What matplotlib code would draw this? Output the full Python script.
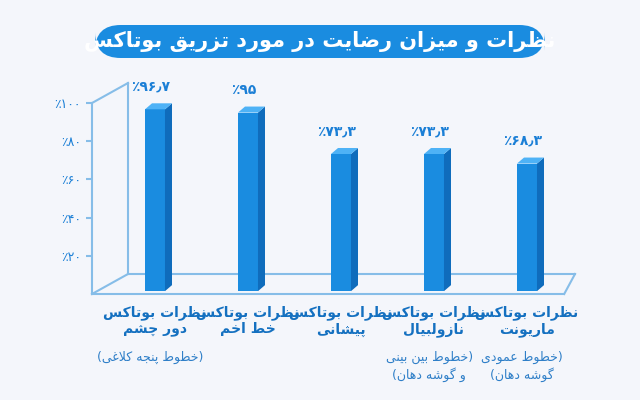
import matplotlib
matplotlib.use("Agg")
import matplotlib.pyplot as plt
from matplotlib.patches import Polygon, FancyBboxPatch

# ---------------- data ----------------
title = "نظرات و میزان رضایت در مورد تزریق بوتاکس"
values = [96.7, 95, 73.3, 73.3, 68.3]
value_labels = ["۹۶٫۷", "۹۵", "۷۳٫۳", "۷۳٫۳", "۶۸٫۳"]
cat_line1 = ["نظرات بوتاکس"] * 5
cat_line2 = ["دور چشم", "خط اخم", "پیشانی", "نازولبیال", "ماریونت"]
notes = [["خطوط پنجه کلاغی"], [], [], ["خطوط بین بینی", "و گوشه دهان"], ["خطوط عمودی", "گوشه دهان"]]
yticks = [20, 40, 60, 80, 100]
ytick_labels = ["۲۰", "۴۰", "۶۰", "۸۰", "۱۰۰"]

# ---------------- simple Arabic/Persian shaper ----------------
F = {
 'ا': (0xFE8D, 0xFE8E), 'د': (0xFEA9, 0xFEAA), 'ر': (0xFEAD, 0xFEAE),
 'ز': (0xFEAF, 0xFEB0), 'و': (0xFEED, 0xFEEE),
 'ب': (0xFE8F, 0xFE90, 0xFE91, 0xFE92), 'ت': (0xFE95, 0xFE96, 0xFE97, 0xFE98),
 'ج': (0xFE9D, 0xFE9E, 0xFE9F, 0xFEA0), 'خ': (0xFEA5, 0xFEA6, 0xFEA7, 0xFEA8),
 'س': (0xFEB1, 0xFEB2, 0xFEB3, 0xFEB4), 'ش': (0xFEB5, 0xFEB6, 0xFEB7, 0xFEB8),
 'ض': (0xFEBD, 0xFEBE, 0xFEBF, 0xFEC0), 'ط': (0xFEC1, 0xFEC2, 0xFEC3, 0xFEC4),
 'ظ': (0xFEC5, 0xFEC6, 0xFEC7, 0xFEC8), 'ع': (0xFEC9, 0xFECA, 0xFECB, 0xFECC),
 'غ': (0xFECD, 0xFECE, 0xFECF, 0xFED0), 'ق': (0xFED5, 0xFED6, 0xFED7, 0xFED8),
 'ل': (0xFEDD, 0xFEDE, 0xFEDF, 0xFEE0), 'م': (0xFEE1, 0xFEE2, 0xFEE3, 0xFEE4),
 'ن': (0xFEE5, 0xFEE6, 0xFEE7, 0xFEE8), 'ه': (0xFEE9, 0xFEEA, 0xFEEB, 0xFEEC),
 'ی': (0xFBFC, 0xFBFD, 0xFBFE, 0xFBFF), 'ک': (0xFB8E, 0xFB8F, 0xFB90, 0xFB91),
 'گ': (0xFB92, 0xFB93, 0xFB94, 0xFB95), 'پ': (0xFB56, 0xFB57, 0xFB58, 0xFB59),
 'چ': (0xFB7A, 0xFB7B, 0xFB7C, 0xFB7D),
}

def shape(s):
    out = []
    i = 0
    n = len(s)
    def dual(c):
        return c in F and len(F[c]) == 4
    while i < n:
        c = s[i]
        if c not in F:
            out.append(c); i += 1; continue
        prev_j = i > 0 and dual(s[i-1])
        if c == 'ل' and i + 1 < n and s[i+1] == 'ا':
            out.append(chr(0xFEFC if prev_j else 0xFEFB)); i += 2; continue
        next_j = dual(c) and i + 1 < n and s[i+1] in F
        f = F[c]
        if prev_j and next_j: g = f[3]
        elif next_j: g = f[2]
        elif prev_j: g = f[1]
        else: g = f[0]
        out.append(chr(g)); i += 1
    return "".join(out[::-1])

FONT = "DejaVu Sans"
BLUE_TXT = "#1b7fd6"
LINE = "#86bde8"

fig = plt.figure(figsize=(6.4, 4.0), dpi=100)
fig.patch.set_facecolor("#f4f6fb")

# title pill
pill = FancyBboxPatch((95/640, 342/400), 450/640, 33/400, boxstyle="round,pad=0,rounding_size=0.04",
                      transform=fig.transFigure, facecolor="#1a8ce0", edgecolor="none", mutation_aspect=1.6)
fig.patches.append(pill)
fig.text(0.5, 358/400, shape(title), ha="center", va="center", color="white",
         fontsize=15, fontweight="bold", family=FONT)

ax = fig.add_axes([92/640, (400-294)/400, (575-92)/640, (294-103)/400])
ax.set_facecolor("none")
xl0, xl1 = -(155-92)/93, (575-155)/93
ax.set_xlim(xl0, xl1)
ax.set_ylim(0, 100)
for s in ax.spines.values():
    s.set_visible(False)
ax.set_xticks([])
ax.set_yticks(yticks)
ax.set_yticklabels(["٪" + t for t in ytick_labels], family=FONT, color=BLUE_TXT, fontsize=9)
ax.tick_params(axis="y", length=4, color=LINE, width=1.5, pad=4)

DX, DY = 36/93, 20/1.91
# 3D frame
kw = dict(color=LINE, lw=1.5, clip_on=False)
ax.plot([xl0, xl0], [0, 100], **kw)
ax.plot([xl0 + DX, xl0 + DX], [DY, 100 + DY], **kw)
ax.plot([xl0, xl0 + DX], [100, 100 + DY], **kw)
ax.plot([xl0, xl0 + DX], [0, DY], **kw)
ax.plot([xl0 + DX, xl1 + DX * 0.0], [DY, DY], **kw)
ax.plot([xl0, xl1 - DX * 0.3], [0, 0], **kw)
ax.plot([xl1 - DX * 0.3, xl1], [0, DY], **kw)

W = 0.215
sdx, sdy = 7/93, 6/1.91
for i, v in enumerate(values):
    x0 = i - W/2
    ax.add_patch(Polygon([(x0, 1.5), (x0 + W, 1.5), (x0 + W, v), (x0, v)], closed=True,
                         facecolor="#1a8ce0", edgecolor="none", zorder=3))
    ax.add_patch(Polygon([(x0 + W, 1.5), (x0 + W + sdx, 1.5 + sdy), (x0 + W + sdx, v + sdy), (x0 + W, v)],
                         closed=True, facecolor="#0f6cbc", edgecolor="none", zorder=3))
    ax.add_patch(Polygon([(x0, v), (x0 + W, v), (x0 + W + sdx, v + sdy), (x0 + sdx, v + sdy)],
                         closed=True, facecolor="#4eb2f6", edgecolor="none", zorder=3))
    ax.text(i - 0.05, v + sdy + 5, "٪" + value_labels[i], ha="center", va="bottom",
            color=BLUE_TXT, fontsize=10, fontweight="bold", family=FONT)
    ax.text(i, -6, shape(cat_line1[i]) + "\n" + shape(cat_line2[i]), ha="center", va="top",
            color="#1470c0", fontsize=10, fontweight="bold", family=FONT, linespacing=1.2)
    if notes[i]:
        if len(notes[i]) == 1:
            t = "(" + shape(notes[i][0]) + ")"
        else:
            t = shape(notes[i][0]) + ")" + "\n" + "(" + shape(notes[i][1])
        ax.text(i - 0.05, -30, t, ha="center", va="top", color="#2f7fc8",
                fontsize=9, family=FONT, linespacing=1.2)

fig.savefig("out.png", dpi=100, facecolor=fig.get_facecolor())
